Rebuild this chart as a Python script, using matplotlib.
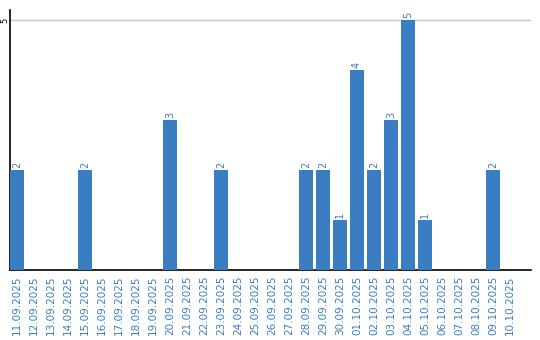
import matplotlib
matplotlib.use("Agg")
import matplotlib.pyplot as plt

dates = ["11.09.2025","12.09.2025","13.09.2025","14.09.2025","15.09.2025","16.09.2025",
         "17.09.2025","18.09.2025","19.09.2025","20.09.2025","21.09.2025","22.09.2025",
         "23.09.2025","24.09.2025","25.09.2025","26.09.2025","27.09.2025","28.09.2025",
         "29.09.2025","30.09.2025","01.10.2025","02.10.2025","03.10.2025","04.10.2025",
         "05.10.2025","06.10.2025","07.10.2025","08.10.2025","09.10.2025","10.10.2025"]
values = [2,0,0,0,2,0,0,0,0,3,0,0,2,0,0,0,0,2,2,1,4,2,3,5,1,0,0,0,2,0]
yticks = [5]

bar_color = "#3a7dc2"
label_color = "#3a7dc2"

fig = plt.figure(figsize=(5.4, 3.4), dpi=100)
ax = fig.add_axes([10/540, 1-270/340, (531-10)/540, 260/340])
x = list(range(len(dates)))
ax.bar(x, values, width=14/17, color=bar_color, zorder=3)
for xi, v in zip(x, values):
    if v:
        ax.text(xi, v + 0.05, str(v), rotation=90, ha="center", va="bottom",
                fontsize=7, color=label_color)
ax.set_xlim(-0.41, 30.24)
ax.set_ylim(0, 5.2)
ax.set_yticks(yticks)
ax.set_yticklabels([str(t) for t in yticks], rotation=90, va="center", fontsize=6)
ax.tick_params(axis="y", length=0, pad=0.5)
ax.grid(axis="y", color="#c8c8c8", linewidth=1, zorder=0)
ax.set_xticks(x)
ax.set_xticklabels(dates, rotation=90, fontsize=7.5, color=label_color)
ax.tick_params(axis="x", length=0, pad=4)
for s in ["top", "right"]:
    ax.spines[s].set_visible(False)
for s in ["left", "bottom"]:
    ax.spines[s].set_color("black")
    ax.spines[s].set_linewidth(1.2)
fig.savefig("out.png", dpi=100)
